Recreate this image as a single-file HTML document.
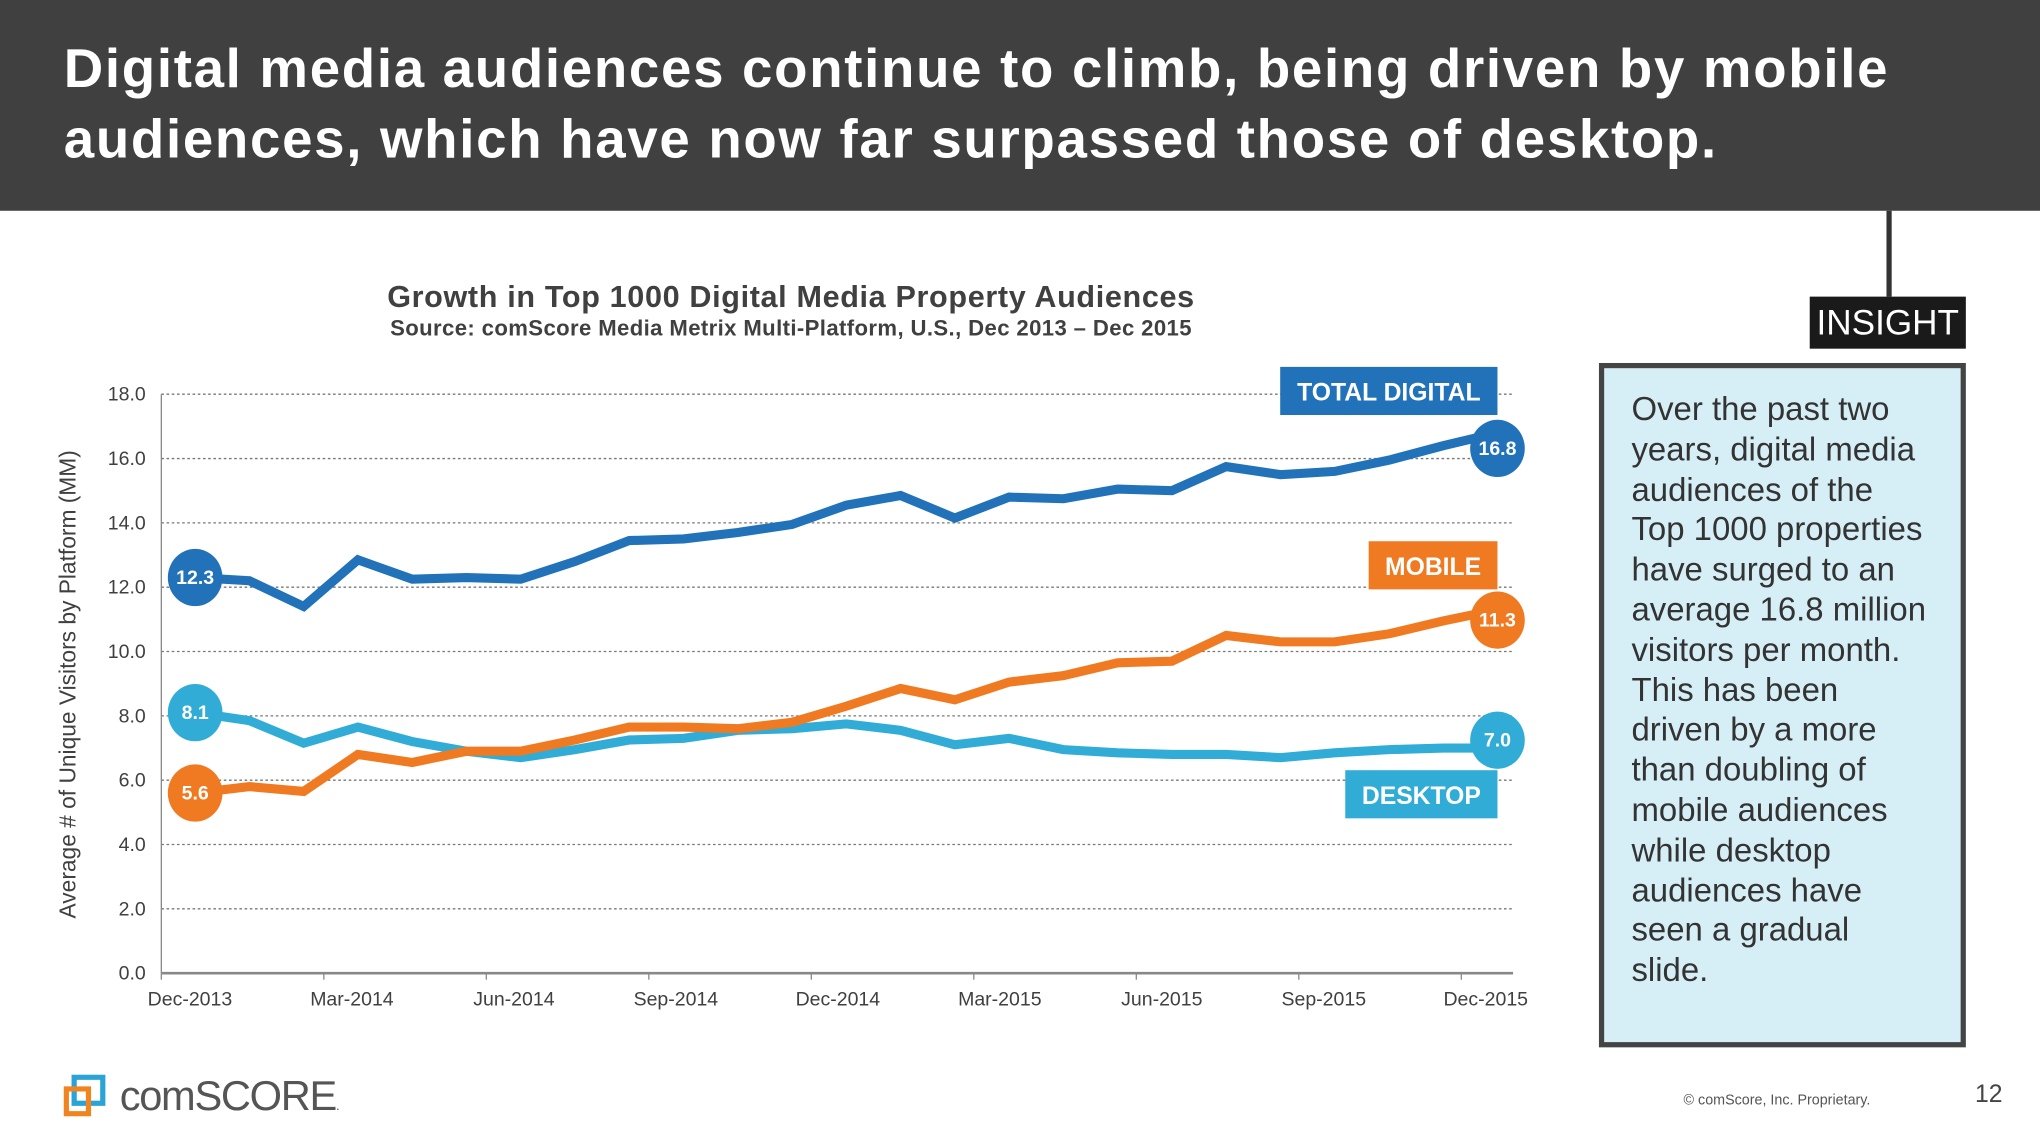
<!DOCTYPE html>
<html><head><meta charset="utf-8"><style>
html,body{margin:0;padding:0;background:#fff;overflow:hidden}
body{width:2040px;height:1148px;font-family:"Liberation Sans",sans-serif}
#wrap{position:absolute;left:0;top:0;width:1568px;height:882px;transform:scale(1.30102);transform-origin:0 0}
.hdr{position:absolute;left:0;top:0;width:1568px;height:162px;background:#404040}
.hdr h1{position:absolute;left:49px;top:26px;margin:0;color:#fff;font-size:42px;line-height:54px;font-weight:bold;letter-spacing:1.3px;white-space:nowrap}
.insight-line{position:absolute;left:1450px;top:162px;width:4px;height:66px;background:#333}
.insight{position:absolute;left:1391px;top:228px;width:120px;height:40px;background:#1a1a1a;color:#fff;font-size:27px;line-height:40px;text-align:center}
.box{position:absolute;left:1229px;top:279px;width:274px;height:518px;border:4px solid #444;background:#d6eef5}
.box p{margin:17px 0 0 21px;width:232px;font-size:25.3px;line-height:30.8px;color:#333}
</style></head><body>
<div id="wrap">
<div class="hdr"><h1>Digital media audiences continue to climb, being driven by mobile<br>audiences, which have now far surpassed those of desktop.</h1></div>
<div class="insight-line"></div>
<div class="insight">INSIGHT</div>
<div class="box"><p>Over the past two years, digital media audiences of the Top 1000 properties have surged to an average 16.8 million visitors per month. This has been driven by a more than doubling of mobile audiences while desktop audiences have seen a gradual slide.</p></div>
<svg id="chart" width="1568" height="882" style="position:absolute;left:0;top:0">
<text x="608" y="236" text-anchor="middle" font-size="23.5" font-weight="bold" letter-spacing="0.5" fill="#404040">Growth in Top 1000 Digital Media Property Audiences</text>
<text x="608" y="258" text-anchor="middle" font-size="17" font-weight="bold" letter-spacing="0.3" fill="#404040">Source: comScore Media Metrix Multi-Platform, U.S., Dec 2013 – Dec 2015</text>
<text transform="translate(58,526) rotate(-90)" text-anchor="middle" font-size="17.5" fill="#404040">Average # of Unique Visitors by Platform (MM)</text>
<g id="grid"></g><g id="series"></g>
</svg>
<div style="position:absolute;left:48px;top:826px">
<svg width="40" height="34"><rect x="9" y="2" width="22" height="20" fill="none" stroke="#2aa3d6" stroke-width="4"/><path d="M3 11 H20 V30 H3 Z" fill="none" stroke="#f0841f" stroke-width="4"/></svg>
<span style="position:absolute;left:44px;top:-2px;font-size:32px;color:#555;letter-spacing:-1px;white-space:nowrap">comSCORE<span style="font-size:10px">.</span></span></div>
<div style="position:absolute;left:1294px;top:840px;font-size:11px;color:#555">© comScore, Inc. Proprietary.</div>
<div style="position:absolute;left:1518px;top:831px;font-size:19px;color:#444">12</div>
</div>
<script>
const yTicks=[0,2,4,6,8,10,12,14,16,18];
const xLabels=["Dec-2013","Mar-2014","Jun-2014","Sep-2014","Dec-2014","Mar-2015","Jun-2015","Sep-2015","Dec-2015"];
const totalDigital=[12.3,12.2,11.4,12.85,12.25,12.3,12.25,12.8,13.45,13.5,13.7,13.95,14.55,14.85,14.15,14.8,14.75,15.05,15.0,15.75,15.5,15.6,15.95,16.4,16.8];
const mobile=[5.6,5.8,5.65,6.8,6.55,6.9,6.9,7.25,7.65,7.65,7.6,7.8,8.3,8.85,8.5,9.05,9.25,9.65,9.7,10.5,10.3,10.3,10.55,10.95,11.3];
const desktop=[8.1,7.85,7.15,7.65,7.2,6.9,6.7,6.95,7.25,7.3,7.55,7.6,7.75,7.55,7.1,7.3,6.95,6.85,6.8,6.8,6.7,6.85,6.95,7.0,7.0];
const NS="http://www.w3.org/2000/svg";
const y=v=>748-v*(445/18);
const x=i=>150+i*(1001/24);
function mk(t,a,p){const e=document.createElementNS(NS,t);for(const k in a)e.setAttribute(k,a[k]);p.appendChild(e);return e;}
const g=document.getElementById('grid');
yTicks.forEach(v=>{
  const l=mk('line',{x1:124,x2:1163,y1:y(v),y2:y(v),stroke:v===0?'#888':'#777','stroke-width':v===0?2:1,'stroke-dasharray':v===0?'':'2,2'},g);
  
  
  const t=mk('text',{x:112,y:y(v)+5,'text-anchor':'end','font-size':15,fill:'#404040'},g);t.textContent=v.toFixed(1);
  
  
});
const ax=mk('line',{x1:124,x2:124,y1:303,y2:748,stroke:'#888','stroke-width':1},g);


xLabels.forEach((s,k)=>{
  const tx=124+k*124.9;
  mk('line',{x1:tx,x2:tx,y1:748,y2:753,stroke:'#888'},g);
  const t=mk('text',{x:146+k*124.5,y:773,'text-anchor':'middle','font-size':15,fill:'#404040'},g);t.textContent=s;
  
  
});
const sg=document.getElementById('series');
const defs=[[desktop,'#31acd7','desktop',[0,-6]],[mobile,'#f07a22','mobile',[0,8]],[totalDigital,'#2272ba','total-digital',[0,12]]];
defs.forEach(([d,c,n,off])=>{
  const p=mk('polyline',{points:d.map((v,i)=>x(i)+','+y(v)).join(' '),fill:'none',stroke:c,'stroke-width':7,'stroke-linejoin':'miter'},sg);
  
  
  [0,d.length-1].forEach((i,j)=>{
    const cy=y(d[i])+off[j];
    const cc=mk('ellipse',{cx:x(i),cy:cy,rx:21,ry:22,fill:c},sg);
    
    
    const t=mk('text',{x:x(i),y:cy+5,'text-anchor':'middle','font-size':15,'font-weight':'bold',fill:'#fff'},sg);t.textContent=d[i].toFixed(1);
    
    
  });
});
[['TOTAL DIGITAL','#2272ba',984,282,167],['MOBILE','#f07a22',1052,416,99],['DESKTOP','#31acd7',1034,592,117]].forEach(([s,c,lx,ly,w])=>{
  const r=mk('rect',{x:lx,y:ly,width:w,height:37,fill:c},sg);
  
  
  const t=mk('text',{x:lx+w/2,y:ly+26,'text-anchor':'middle','font-size':19,'font-weight':'bold',fill:'#fff'},sg);t.textContent=s;
  
  
});
</script>
</body></html>
